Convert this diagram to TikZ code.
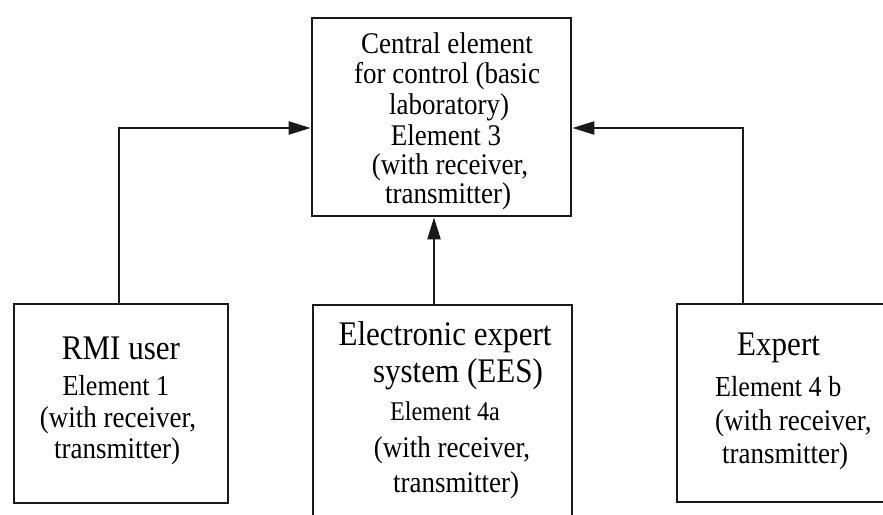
\documentclass[tikz,border=0pt]{standalone}
\usepackage{fontspec}
\setmainfont{Liberation Serif}[FakeStretch=0.9]
\usetikzlibrary{arrows.meta}
\begin{document}
\begin{tikzpicture}[x=1pt,y=-1pt,
  box/.style={draw=black!90, line width=2.8pt, fill=white, inner sep=0pt},
  arr/.style={draw=black!90, line width=2.4pt, -{Triangle[length=22pt,width=13pt]}},
  big/.style={inner sep=0pt, font=\fontsize{34.5}{38}\selectfont},
  mid/.style={inner sep=0pt, font=\fontsize{30}{33}\selectfont},
  sml/.style={inner sep=0pt, font=\fontsize{29}{32}\selectfont}]
\useasboundingbox (0,0) rectangle (883,514);
\clip (0,0) rectangle (883,514);
\fill[white] (0,0) rectangle (883,514);
% boxes
\node[box, minimum width=259pt, minimum height=198pt] (c) at (441.5,117) {};
\node[box, minimum width=214pt, minimum height=199pt] (l) at (121,403.5) {};
\node[box, minimum width=259pt, minimum height=235pt] (m) at (442.5,422.5) {};
\node[box, minimum width=233pt, minimum height=198pt] (r) at (793.5,403) {};
% central text
\node[mid, anchor=base] (c1) at (447,53) {Central element};
\node[mid, anchor=base] (c2) at (447,83) {for control (basic};
\node[mid, anchor=base] (c3) at (449,114) {laboratory)};
\node[mid, anchor=base] (c4) at (446,145) {Element 3};
\node[mid, anchor=base] (c5) at (450,174) {(with receiver,};
\node[mid, anchor=base] (c6) at (448,203) {transmitter)};
% left text
\node[big, anchor=base] (l1) at (121,359) {RMI user};
\node[sml, anchor=base] (l2) at (116,395) {Element 1};
\node[mid, anchor=base] (l3) at (118,427) {(with receiver,};
\node[mid, anchor=base] (l4) at (117,458) {transmitter)};
% middle text
\node[big, anchor=base] (m1) at (445,345) {Electronic expert};
\node[big, anchor=base] (m2) at (458,382) {system (EES)};
\node[inner sep=0pt, font=\fontsize{27}{30}\selectfont, anchor=base] (m3) at (445,420) {Element 4a};
\node[mid, anchor=base] (m4) at (452,457) {(with receiver,};
\node[mid, anchor=base] (m5) at (456,492) {transmitter)};
% right text
\node[big, anchor=base west] (r1) at (737,355) {Expert};
\node[sml, anchor=base west] (r2) at (715,396) {Element 4 b};
\node[mid, anchor=base west] (r3) at (715,430) {(with receiver,};
\node[mid, anchor=base west] (r4) at (722,463) {transmitter)};
% connectors
\coordinate (lk) at (119,128);
\coordinate (rk) at (743,128);
\coordinate (mk) at (434,260);
\draw[arr] (lk |- l.north) -- (lk) -- (lk -| c.west);
\draw[arr] (rk |- r.north) -- (rk) -- (rk -| c.east);
\draw[arr] (mk |- m.north) -- (mk |- c.south);
\end{tikzpicture}
\end{document}
